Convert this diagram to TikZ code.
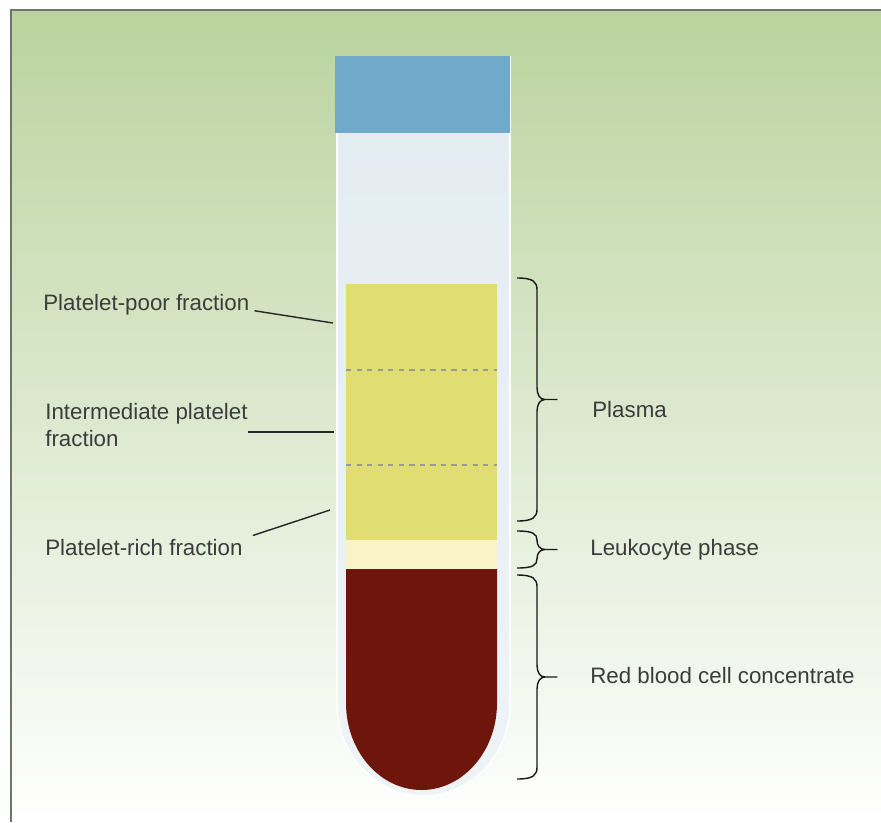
\documentclass[tikz,border=0pt]{standalone}
\usepackage{fontspec}
\setmainfont{Liberation Sans}
\usepackage{tikz}
\usetikzlibrary{calc}
\definecolor{bgtop}{HTML}{BAD39E}
\definecolor{bgmid}{HTML}{D5E4C4}
\definecolor{framegray}{HTML}{6E7466}
\definecolor{capblue}{HTML}{70A9C9}
\definecolor{tubebody}{HTML}{E3ECF2}
\definecolor{tubelow}{HTML}{EEF4F6}
\definecolor{plasmayellow}{HTML}{E0DE72}
\definecolor{buffy}{HTML}{F8F4C7}
\definecolor{rbcred}{HTML}{6E160C}
\definecolor{labelgray}{HTML}{3C3C3C}

\begin{document}
\begin{tikzpicture}[
        x=0.02cm, y=-0.02cm,
        lbl/.style={
            font=\fontsize{12.7}{15}\selectfont,
            text=labelgray,
            anchor=west,
            align=left,
            inner sep=0pt
        },
        lead/.style={black!85, line width=0.8pt},
        brc/.style={black!90, line width=0.8pt, line join=round},
        sep/.style={dash pattern=on 3pt off 3pt, gray!80, line width=0.7pt}
    ]
    \useasboundingbox (0,0) rectangle (881,822);

    % Fondo con degradado verde
    \shade[top color=bgtop, middle color=bgmid, bottom color=white] (11,10) rectangle (881,822);
    \draw[framegray, line width=1.2pt] (11,822) -- (11,10) -- (881,10);

    % Tubo
    \draw[white, line width=1pt, top color=tubebody, bottom color=tubelow] (337,57) -- (337,705)
        .. controls (337,754) and (375.7,796) .. (423.5,796)
        .. controls (471.3,796) and (510,754) .. (510,705) -- (510,57) -- cycle;
    \fill[capblue] (335,56) rectangle (510,133);

    % Fases
    \fill[plasmayellow] (346,284) rectangle (497,540);
    \fill[buffy] (346,540) rectangle (497,569);
    \fill[rbcred] (346,569) -- (346,703)
        .. controls (346,751) and (379.8,790) .. (421.5,790)
        .. controls (463.2,790) and (497,751) .. (497,703) -- (497,569) -- cycle;
    \foreach \yy in {370,465}
        \draw[sep] (346,\yy) -- (497,\yy);

    % Etiquetas izquierda
    \node[lbl] (poor) at (43,305) {Platelet-poor fraction};
    \node[lbl] (inter) at (45,425) {Intermediate platelet\\fraction};
    \node[lbl] (rich) at (45,548) {Platelet-rich fraction};

    \coordinate (poorend) at (333,323);
    \coordinate (interend) at (334,432);
    \coordinate (richend) at (330,510);

    \draw[lead] ([xshift=0.1cm]poor.base east) -- (poorend);
    \draw[lead] (inter.east |- interend) -- (interend);
    \draw[lead] ([shift={(10,-4)}]rich.north east) -- (richend);

    % Llaves derecha
    \foreach \ya/\yb in {278/521, 531/568, 575/779} {
        \pgfmathsetmacro\ym{(\ya+\yb)/2}
        \pgfmathsetmacro\rr{min(12,(\yb-\ya)/4)}
        \draw[brc] (517,\ya) .. controls (533,\ya) and (537,{\ya+0.3*\rr}) .. (537,{\ya+\rr})
            -- (537,{\ym-\rr}) .. controls (537,{\ym-0.4*\rr}) and (540,\ym) .. (545,\ym)
            -- (557,\ym) -- (545,\ym)
            .. controls (540,\ym) and (537,{\ym+0.4*\rr}) .. (537,{\ym+\rr})
            -- (537,{\yb-\rr}) .. controls (537,{\yb-0.3*\rr}) and (533,\yb) .. (517,\yb);
    }

    \node[lbl] (plasma) at (592,410) {Plasma};
    \node[lbl] (leuko) at (590,550) {Leukocyte phase};
    \node[lbl] (rbc) at (590,676) {Red blood cell concentrate};

\end{tikzpicture}
\end{document}
